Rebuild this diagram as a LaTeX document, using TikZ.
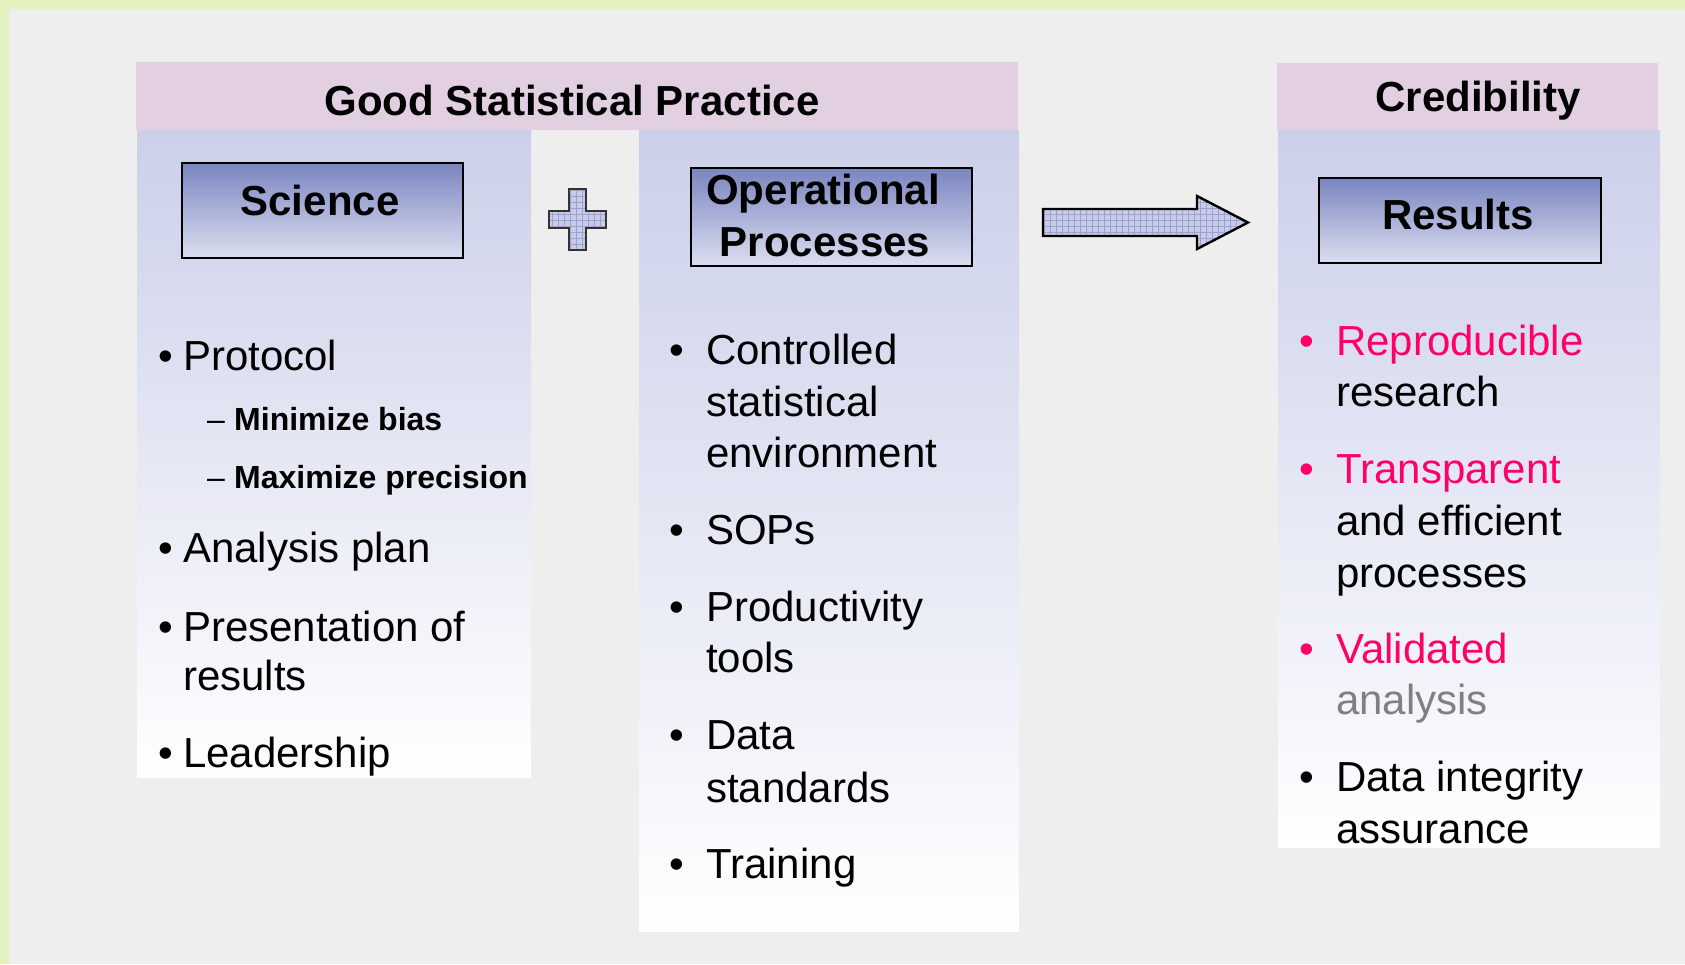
\documentclass[tikz,border=0pt]{standalone}
\usepackage{fontspec}
\setmainfont{Liberation Sans}
\usetikzlibrary{patterns.meta}
\definecolor{bgc}{HTML}{EEEEEE}
\definecolor{greenc}{HTML}{E4F2C0}
\definecolor{pinkc}{HTML}{E2D0E2}
\definecolor{coltop}{HTML}{CBCFE9}
\definecolor{boxtop}{HTML}{7A85C0}
\definecolor{boxbot}{HTML}{DCDFF0}
\definecolor{hot}{HTML}{FF0066}
\definecolor{greyt}{HTML}{808080}
\definecolor{shapefill}{HTML}{C8CCE8}
\definecolor{gridc}{HTML}{9AA2D2}
\begin{document}
\begin{tikzpicture}[x=1pt,y=-1pt,
  txt/.style={font=\fontsize{42}{50}\selectfont, inner sep=0pt, anchor=base west},
  bul/.style={font=\fontsize{42}{50}\selectfont, inner sep=0pt, anchor=base},
  subtxt/.style={font=\fontsize{32}{38}\selectfont\bfseries, inner sep=0pt, anchor=base west},
  subdash/.style={font=\fontsize{32}{38}\selectfont, inner sep=0pt, anchor=base},
  lbl/.style={font=\fontsize{42}{50}\selectfont\bfseries, inner sep=0pt, anchor=base},
  box/.style={draw=black, line width=1.8pt, top color=boxtop, bottom color=boxbot, inner sep=0pt},
  colshade/.style={top color=coltop, bottom color=white},
  shapestyle/.style={preaction={fill=shapefill}, pattern={Hatch[distance=6pt,line width=0.6pt]}, pattern color=gridc, line join=miter}
]
\useasboundingbox (0,0) rectangle (1685,964);
\fill[bgc] (0,0) rectangle (1685,964);
\fill[greenc] (0,0) rectangle (1685,9);
\fill[greenc] (0,0) rectangle (9,964);

% headers and columns
\fill[pinkc] (136,62) rectangle (1018,130);
\shade[colshade] (137,130) rectangle (531,777);
\shade[colshade] (639,130) rectangle (1019,931);
\fill[pinkc] (1277,63) rectangle (1658,130);
\shade[colshade] (1278,130) rectangle (1660,847);

\node[lbl] (gsp) at (572,115) {Good Statistical Practice};
\node[lbl] (cred) at (1478,111) {Credibility};

% boxes
\node[box, minimum width=281pt, minimum height=95pt] (sci) at (322.5,210.5) {};
\node[lbl] (scit) at (320,215) {Science};
\node[box, minimum width=281pt, minimum height=98pt] (ops) at (831.5,217) {};
\node[lbl] (opst1) at (823,204) {Operational};
\node[lbl] (opst2) at (825,256) {Processes};
\node[box, minimum width=282pt, minimum height=85pt] (res) at (1460,220.5) {};
\node[lbl] (rest) at (1458,229) {Results};

% plus
\draw[shapestyle, draw=black!80, line width=1.6pt]
  (569,189) -- (586,189) -- (586,211) -- (606,211) -- (606,228) -- (586,228)
  -- (586,250) -- (569,250) -- (569,228) -- (549,228) -- (549,211) -- (569,211) -- cycle;

% arrow
\draw[shapestyle, draw=black, line width=2.4pt]
  (1043,209) -- (1197,209) -- (1197,196) -- (1248,222.5) -- (1197,249)
  -- (1197,236) -- (1043,236) -- cycle;

% left column
\node[bul] (lb1) at (166,370) {•};
\node[txt] (l1) at (183,370) {Protocol};
\node[subdash] (ld1) at (216,430) {–};
\node[subtxt] (l1a) at (234,430) {Minimize bias};
\node[subdash] (ld2) at (216,488) {–};
\node[subtxt] (l1b) at (234,488) {Maximize precision};
\node[bul] (lb2) at (166,562) {•};
\node[txt] (l2) at (183,562) {Analysis plan};
\node[bul] (lb3) at (166,641) {•};
\node[txt] (l3) at (183,641) {Presentation of};
\node[txt] (l3b) at (183,690) {results};
\node[bul] (lb4) at (166,767) {•};
\node[txt] (l4) at (183,767) {Leadership};

% middle column
\node[bul] (mb1) at (677,364) {•};
\node[txt] (m1) at (706,364) {Controlled};
\node[txt] (m1b) at (706,416) {statistical};
\node[txt] (m1c) at (706,467) {environment};
\node[bul] (mb2) at (677,544) {•};
\node[txt] (m2) at (706,544) {SOPs};
\node[bul] (mb3) at (677,621) {•};
\node[txt] (m3) at (706,621) {Productivity};
\node[txt] (m3b) at (706,672) {tools};
\node[bul] (mb4) at (677,749) {•};
\node[txt] (m4) at (706,749) {Data};
\node[txt] (m4b) at (706,802) {standards};
\node[bul] (mb5) at (677,878) {•};
\node[txt] (m5) at (706,878) {Training};

% right column
\node[bul, text=hot] (rb1) at (1307,355) {•};
\node[txt, text=hot] (r1) at (1336,355) {Reproducible};
\node[txt] (r1b) at (1336,406) {research};
\node[bul, text=hot] (rb2) at (1307,483) {•};
\node[txt, text=hot] (r2) at (1336,483) {Transparent};
\node[txt] (r2b) at (1336,535) {and efficient};
\node[txt] (r2c) at (1336,587) {processes};
\node[bul, text=hot] (rb3) at (1307,663) {•};
\node[txt, text=hot] (r3) at (1336,663) {Validated};
\node[txt, text=greyt] (r3b) at (1336,714) {analysis};
\node[bul] (rb4) at (1307,791) {•};
\node[txt] (r4) at (1336,791) {Data integrity};
\node[txt] (r4b) at (1336,843) {assurance};
\end{tikzpicture}
\end{document}
